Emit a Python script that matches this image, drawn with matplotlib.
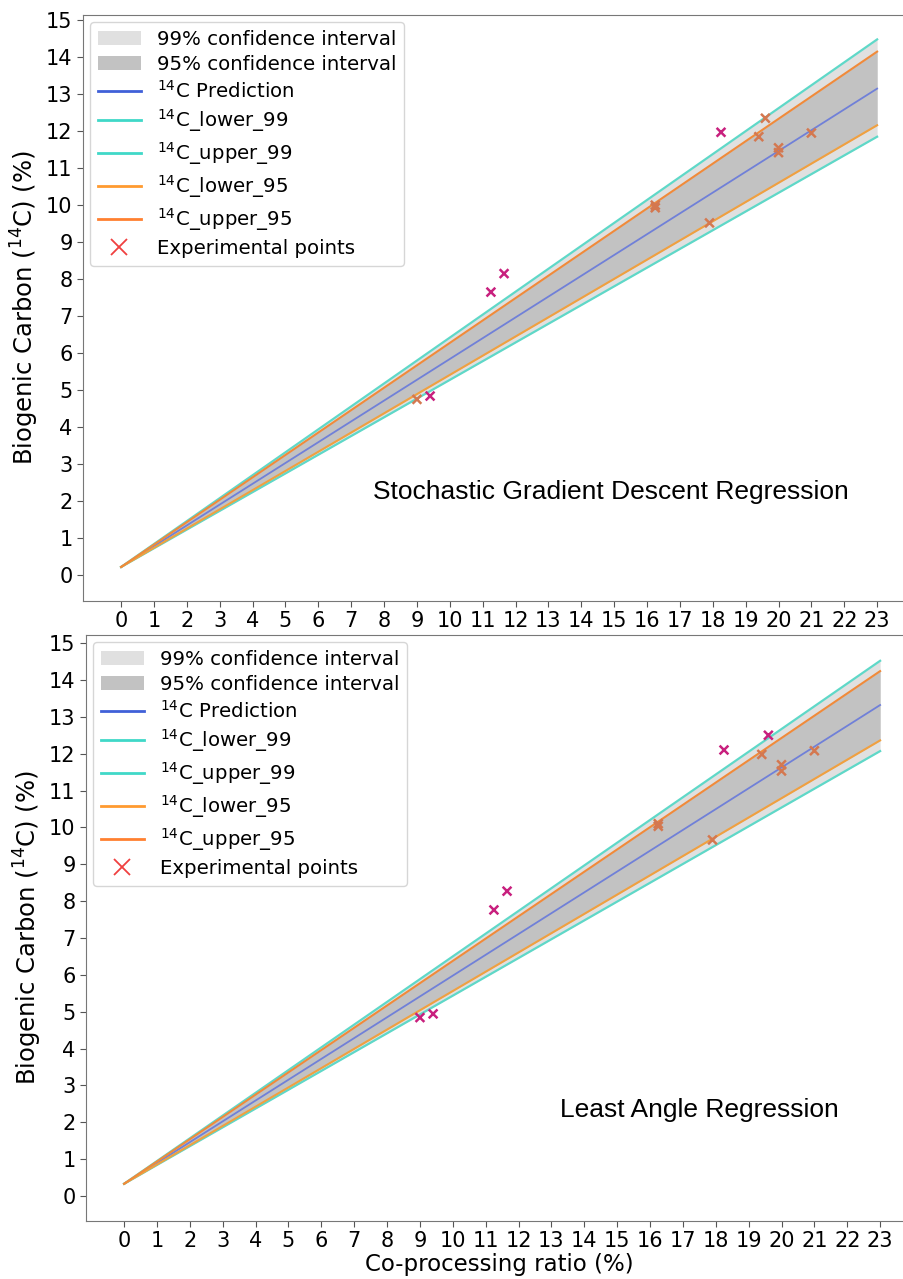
import numpy as np
import matplotlib.pyplot as plt
from matplotlib.patches import Patch
from matplotlib.lines import Line2D

# Regression band end points (x = 0 and x = 23)
x_line = [0, 23]

sgd_pred = [0.22, 13.15]
sgd_lower_99 = [0.22, 11.85]
sgd_upper_99 = [0.22, 14.48]
sgd_lower_95 = [0.22, 12.16]
sgd_upper_95 = [0.22, 14.15]

lar_pred = [0.33, 13.32]
lar_lower_99 = [0.33, 12.07]
lar_upper_99 = [0.33, 14.52]
lar_lower_95 = [0.33, 12.36]
lar_upper_95 = [0.33, 14.24]

# Experimental points
exp_x = [9.0, 9.4, 11.25, 11.65, 16.25, 16.25, 17.9, 18.25, 19.4, 19.6, 20.0, 20.0, 21.0]
sgd_y = [4.75, 4.84, 7.65, 8.15, 9.93, 10.0, 9.52, 11.97, 11.85, 12.35, 11.55, 11.42, 11.95]
lar_y = [4.84, 4.94, 7.76, 8.27, 10.03, 10.1, 9.66, 12.1, 11.98, 12.5, 11.7, 11.53, 12.08]

titles = ["Stochastic Gradient Descent Regression", "Least Angle Regression"]

fig = plt.figure(figsize=(9.04, 12.79), dpi=100)
ax1 = fig.add_axes([83 / 904, 678 / 1279, 827 / 904, 586 / 1279])
ax2 = fig.add_axes([86 / 904, 58 / 1279, 827 / 904, 586 / 1279])


def draw(ax, pred, lo99, up99, lo95, up95, ys, title, tpos, ylim):
    ax.fill_between(x_line, lo99, up99, color="#e0e0e0", lw=0, zorder=1)
    ax.fill_between(x_line, lo95, up95, color="#c2c2c2", lw=0, zorder=1)
    ax.plot(x_line, pred, color="#7080d8", lw=1.3, zorder=2)
    ax.plot(x_line, lo99, color="#5fd8c8", lw=1.6, zorder=2)
    ax.plot(x_line, up99, color="#5fd8c8", lw=1.6, zorder=2)
    ax.plot(x_line, lo95, color="#f0a040", lw=1.5, zorder=2)
    ax.plot(x_line, up95, color="#f08a3a", lw=1.5, zorder=2)

    # points inside the band look muted, outside ones magenta
    band_top = np.interp(exp_x, x_line, up99)
    band_bot = np.interp(exp_x, x_line, lo99)
    cols = ["#d47850" if (b - 0.05) <= y <= t else "#c8207e"
            for y, t, b in zip(ys, band_top, band_bot)]
    ax.scatter(exp_x, ys, marker="x", s=40, c=cols, linewidths=1.8, zorder=3)

    ax.set_xlim(-1.16, 24.0)
    ax.set_ylim(*ylim)
    ax.set_xticks(range(0, 24))
    ax.set_yticks(range(0, 16))
    ax.tick_params(labelsize=15, color="#555555", length=4)
    for s in ax.spines.values():
        s.set_color("#777777")
    ax.set_ylabel("Biogenic Carbon ($^{14}$C) (%)", fontsize=17.5)

    ax.text(tpos[0], tpos[1], title, fontsize=19, family="Liberation Sans",
            ha="center", va="center")

    handles = [
        Patch(facecolor="#e0e0e0", label="99% confidence interval"),
        Patch(facecolor="#c2c2c2", label="95% confidence interval"),
        Line2D([], [], color="#4060d8", lw=2, label="$^{14}$C Prediction"),
        Line2D([], [], color="#40d8c8", lw=2, label="$^{14}$C_lower_99"),
        Line2D([], [], color="#40d8c8", lw=2, label="$^{14}$C_upper_99"),
        Line2D([], [], color="#ff9a30", lw=2, label="$^{14}$C_lower_95"),
        Line2D([], [], color="#ff8030", lw=2, label="$^{14}$C_upper_95"),
        Line2D([], [], color="#f04040", marker="x", ls="none", ms=12, mew=1.3,
               label="Experimental points"),
    ]
    ax.legend(handles=handles, loc="upper left", fontsize=14.2, handlelength=2.2,
              borderaxespad=0.35, labelspacing=0.3)


draw(ax1, sgd_pred, sgd_lower_99, sgd_upper_99, sgd_lower_95, sgd_upper_95,
     sgd_y, titles[0], (14.9, 2.25), (-0.7, 15.14))
draw(ax2, lar_pred, lar_lower_99, lar_upper_99, lar_lower_95, lar_upper_95,
     lar_y, titles[1], (17.5, 2.33), (-0.68, 15.22))

ax2.set_xlabel("Co-processing ratio (%)", fontsize=16.5, labelpad=1)

plt.savefig("out.png", dpi=100)
